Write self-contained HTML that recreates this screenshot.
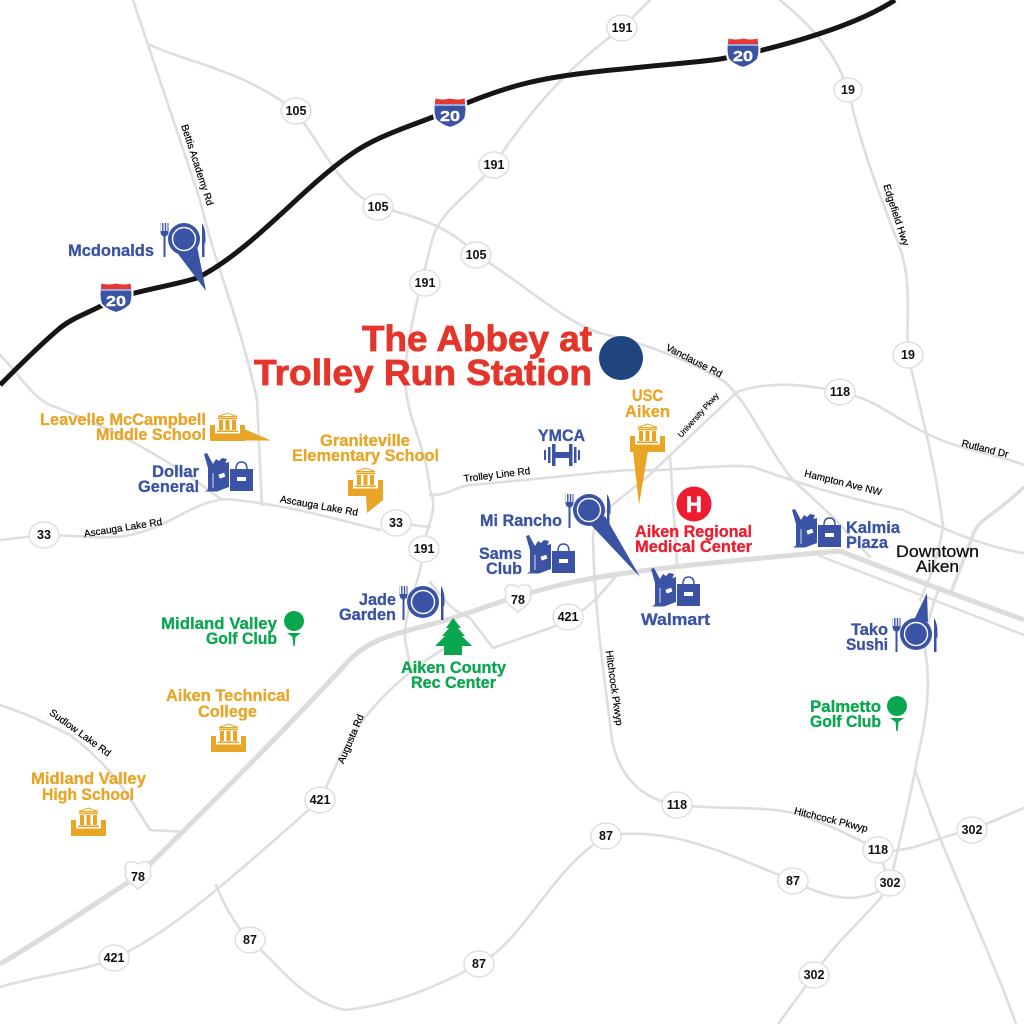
<!DOCTYPE html>
<html><head><meta charset="utf-8"><style>
html,body{margin:0;padding:0;background:#fff}
svg{display:block}
text{font-family:"Liberation Sans",sans-serif}
.l{font-weight:700;font-size:17px;stroke-width:.3}
.b{fill:#3a53a4;stroke:#3a53a4}.g{fill:#e8a526;stroke:#e8a526}.v{fill:#0aa64f;stroke:#0aa64f}.r{fill:#ed1c2e;stroke:#ed1c2e}
.rd{font-size:10px;fill:#000;text-anchor:middle;stroke:#000;stroke-width:.2}
.o{font-size:12.5px;font-weight:700;fill:#111;text-anchor:middle}
.road{fill:none;stroke:#dedede;stroke-width:2.6;stroke-linejoin:round;stroke-linecap:round}
</style></head><body>
<svg width="1024" height="1024" viewBox="0 0 1024 1024" xmlns="http://www.w3.org/2000/svg">
<defs>
<g id="plate"><circle r="16" fill="#3a53a4"/><circle r="11.500" fill="none" stroke="#fff" stroke-width="1.400"/>
<path d="M-23.500-16v9q0 3 3 4.500V18h2V-2.500q3-1.500 3-4.500v-9h-1v8h-1.300v-8h-1.400v8h-1.300v-8h-1.400v8h-1.300v-8z" fill="#3a53a4"/>
<path d="M18-16q3.500 5 3.500 15t-1 3v16H18z" fill="#3a53a4"/></g>
<g id="bags" fill="#3a53a4">
<path d="M-1 0L2-1 8 10l3-5 3 2 3-3 5 1-3 7-12 3-4-1z"/>
<path d="M3 14L24 8v25L12 37.500H0l3-2z"/>
<rect x="14" y="20" width="6" height="4" fill="#fff" transform="rotate(-20 16 22)"/>
<path d="M8 19v15" stroke="#fff" stroke-width=".8"/>
<path d="M25 15h23v22H25z"/><path d="M31 15q0-7 5.500-7t5.500 7" fill="none" stroke="#3a53a4" stroke-width="1.500"/>
<rect x="32" y="23" width="9" height="4" fill="#fff"/>
</g>
<g id="school">
<path d="M8 4.500L17.500 1 27 4.500z" fill="none" stroke="#e8a526" stroke-width="1"/>
<path d="M8 5.500h19v1.800H8zM9 8h4v10H9zM15.500 8h4v10h-4zM22 8h4v10h-4zM7 18.500h21v1.500H7z" fill="#e8a526"/>
<path d="M0 13h5v8.500h25V13h5v16H0z" fill="#e8a526"/>
</g>
<g id="tee"><circle r="10" fill="#0aa64f"/><path d="M-7 12H7L1.500 16 .7 25h-1.400L-1.500 16z" fill="#0aa64f"/></g>
<g id="i20"><path d="M-15-15q7 2 15 0 8 2 15 0 3 12 0 21-5 6-15 9-10-3-15-9-3-9 0-21z" fill="#3a53a4" stroke="#fff" stroke-width="2"/>
<path d="M-14.500-14.500q7 2 14.500 0 8 2 14.500 0 .5 3 .5 5.500h-30q0-2.500 .5-5.500z" fill="#e53935"/>
<path d="M-15-8h30" stroke="#fff" stroke-width="1"/>
<text x="0" y="8" text-anchor="middle" font-size="15" font-weight="700" fill="#fff" stroke="#fff" stroke-width=".4" textLength="20" lengthAdjust="spacingAndGlyphs">20</text></g>
<g id="us"><path d="M-13-9l3-4h6l4 2 4-2h6l3 4-1 6 1 4-4 6-9 7-9-7-4-6 1-4z" fill="#fff" stroke="#ddd" stroke-width="1.500"/></g>
</defs>
<rect width="1024" height="1024" fill="#fff"/>

<!-- secondary roads -->
<g class="road">
<path d="M133 0L200 200C215 265 240 320 257 400L262 505"/>
<path d="M150 45C185 62 245 70 296 112C325 150 340 190 378 207C410 215 450 225 476 255C520 280 560 320 600 333C640 342 690 360 725 382C750 405 765 445 793 480L833 517L870 557"/>
<path d="M650 0L622 28C570 65 530 110 494 165C470 195 440 210 432 240C425 270 405 340 405 380C408 425 425 440 430 490C440 510 424 530 424 549C418 590 404 610 405 640C407 650 408 655 410 665"/>
<path d="M780 0C810 25 835 50 848 90C860 140 870 170 895 235C915 280 905 320 908 355C918 400 937 470 943 527C938 560 925 590 920 600"/>
<path d="M940 587C932 605 926 625 925 650C932 690 925 725 917 760C910 800 900 840 890 883"/>
<path d="M915 770C945 860 990 950 1016 1024"/>
<path d="M737 392C770 380 810 385 840 392C880 400 895 420 930 435C960 450 1000 455 1024 465"/>
<path d="M737 392L647 477L610 507C600 515 593 525 593 540C595 620 605 680 612 740C620 780 645 800 677 805C720 810 770 805 800 815C830 825 860 840 878 850L890 883"/>
<path d="M430 495C450 495 455 487 470 485C530 480 580 474 627 470C680 472 720 463 753 467C790 480 840 497 903 510C925 520 975 545 1023 553"/>
<path d="M670 457L677 565"/>
<path d="M0 540L44 535C70 535 110 540 130 535C170 527 190 503 225 499C280 503 340 520 380 530M412 525L430 527"/>
<path d="M0 355C20 375 30 395 50 405C90 420 150 445 222 500"/>
<path d="M0 987C40 975 90 970 114 958C170 935 240 870 320 800C335 770 345 735 385 695C405 675 430 655 460 640"/>
<path d="M430 582C445 600 450 610 470 618L493 648L553 627C575 617 590 605 598 597L617 575"/>
<path d="M216 885C228 915 240 930 250 940C280 965 300 1000 345 1010C395 1005 440 985 479 964C525 940 550 870 606 836C670 825 730 855 793 881C830 900 860 905 890 885C870 915 840 935 814 975L778 1024"/>
<path d="M878 850C910 855 940 835 972 830L1024 808"/>
<path d="M0 705C30 715 50 725 70 735C110 765 125 790 150 830L185 832"/>
<path d="M1023 488C1005 505 990 515 980 523C972 532 972 540 970 543L952 590" stroke-width="3.500"/>
<path d="M820 556L1024 635" stroke-width="2.500"/>
</g>
<path d="M0 964C50 935 100 900 138 876C210 805 280 735 343 667C365 640 390 635 440 622C480 610 500 600 560 585C620 570 740 560 840 551C900 575 970 600 1024 620" fill="none" stroke="#dcdcdc" stroke-width="5"/>
<path d="M0 385C20 365 40 345 60 328C75 316 90 313 116 298C150 288 175 285 197 278C250 252 300 190 350 155C375 137 405 128 433 117C455 108 490 92 527 83C560 75 600 71 633 68C670 64 700 62 720 59C760 52 850 30 895 0" fill="none" stroke="#161616" stroke-width="5"/>

<!-- shields -->
<use href="#i20" x="450" y="113"/><use href="#i20" x="743" y="53"/><use href="#i20" x="116" y="298"/>
<use href="#us" x="518" y="598"/><text class="o" x="518" y="604">78</text>
<use href="#us" x="138" y="875"/><text class="o" x="138" y="881">78</text>

<!-- route ovals -->
<g fill="#fff" stroke="#dfdfdf" stroke-width="1.500">
<ellipse cx="622" cy="28" rx="15" ry="13"/><ellipse cx="296" cy="111" rx="15" ry="13"/><ellipse cx="378" cy="207" rx="15" ry="13"/><ellipse cx="494" cy="165" rx="15" ry="13"/><ellipse cx="848" cy="90" rx="14" ry="12"/><ellipse cx="476" cy="255" rx="15" ry="13"/><ellipse cx="425" cy="283" rx="15" ry="13"/><ellipse cx="908" cy="355" rx="15" ry="13"/><ellipse cx="840" cy="392" rx="15" ry="13"/><ellipse cx="396" cy="523" rx="15" ry="13"/><ellipse cx="44" cy="535" rx="15" ry="13"/><ellipse cx="424" cy="549" rx="15" ry="13"/><ellipse cx="568" cy="617" rx="15" ry="13"/><ellipse cx="320" cy="800" rx="15" ry="13"/><ellipse cx="677" cy="805" rx="15" ry="13"/><ellipse cx="878" cy="850" rx="15" ry="13"/><ellipse cx="606" cy="836" rx="15" ry="13"/><ellipse cx="793" cy="881" rx="15" ry="13"/><ellipse cx="890" cy="883" rx="15" ry="13"/><ellipse cx="972" cy="830" rx="15" ry="13"/><ellipse cx="250" cy="940" rx="15" ry="13"/><ellipse cx="114" cy="958" rx="15" ry="13"/><ellipse cx="479" cy="964" rx="15" ry="13"/><ellipse cx="814" cy="975" rx="15" ry="13"/>
</g>
<g transform="translate(0 4)">
<text class="o" x="622" y="28">191</text><text class="o" x="296" y="111">105</text><text class="o" x="378" y="207">105</text><text class="o" x="494" y="165">191</text><text class="o" x="848" y="90">19</text><text class="o" x="476" y="255">105</text><text class="o" x="425" y="283">191</text><text class="o" x="908" y="355">19</text><text class="o" x="840" y="392">118</text><text class="o" x="396" y="523">33</text><text class="o" x="44" y="535">33</text><text class="o" x="424" y="549">191</text><text class="o" x="568" y="617">421</text><text class="o" x="320" y="800">421</text><text class="o" x="677" y="805">118</text><text class="o" x="878" y="850">118</text><text class="o" x="606" y="836">87</text><text class="o" x="793" y="881">87</text><text class="o" x="890" y="883">302</text><text class="o" x="972" y="830">302</text><text class="o" x="250" y="940">87</text><text class="o" x="114" y="958">421</text><text class="o" x="479" y="964">87</text><text class="o" x="814" y="975">302</text>
</g>

<!-- road labels -->
<text class="rd" transform="translate(197 165) rotate(72)" y="3">Bettis Academy Rd</text>
<text class="rd" transform="translate(896 215) rotate(72)" y="3">Edgefield Hwy</text>
<text class="rd" transform="translate(694 361) rotate(27)" y="3">Vanclause Rd</text>
<text class="rd" transform="translate(985 449) rotate(14)" y="3">Rutland Dr</text>
<text class="rd" transform="translate(843 483) rotate(14)" y="3">Hampton Ave NW</text>
<text class="rd" style="font-size:8px" transform="translate(698 415) rotate(-48)" y="3">University Pkwy</text>
<text class="rd" transform="translate(497 475) rotate(-7)" y="3">Trolley Line Rd</text>
<text class="rd" transform="translate(319 506) rotate(10)" y="3">Ascauga Lake Rd</text>
<text class="rd" transform="translate(123 528) rotate(-9)" y="3">Ascauga Lake Rd</text>
<text class="rd" transform="translate(614 688) rotate(82)" y="3">Hitchcock Pkwyp</text>
<text class="rd" transform="translate(351 739) rotate(-67)" y="3">Augusta Rd</text>
<text class="rd" transform="translate(80 733) rotate(36)" y="3">Sudlow Lake Rd</text>
<text class="rd" transform="translate(831 820) rotate(14)" y="3">Hitchcock Pkwyp</text>

<!-- title -->
<text x="362" y="351" font-size="36" font-weight="700" fill="#e5352b" stroke="#e5352b" stroke-width=".8" textLength="230" lengthAdjust="spacingAndGlyphs">The Abbey at</text>
<text x="254" y="385" font-size="36" font-weight="700" fill="#e5352b" stroke="#e5352b" stroke-width=".8" textLength="338" lengthAdjust="spacingAndGlyphs">Trolley Run Station</text>
<circle cx="621" cy="358" r="22" fill="#1f4480"/>

<!-- restaurants -->
<path d="M175 250L197 246 206 291z" fill="#3a53a4"/><use href="#plate" x="184" y="239"/>
<path d="M590 524L605 516 640 577z" fill="#3a53a4"/><use href="#plate" x="589" y="510"/>
<use href="#plate" x="423" y="602"/>
<path d="M914 620L927 593 928 622z" fill="#3a53a4"/><use href="#plate" x="916" y="634"/>

<!-- shopping -->
<use href="#bags" x="205" y="454"/><use href="#bags" x="527" y="536"/><use href="#bags" x="652" y="569"/><use href="#bags" x="793" y="510"/>

<!-- schools -->
<use href="#school" x="210" y="412"/><path d="M244 429L271 440.500H244z" fill="#e8a526"/>
<use href="#school" x="348" y="467"/><path d="M366 495H383V500L367 513z" fill="#e8a526"/>
<use href="#school" x="630" y="423"/><path d="M633 451H648L639 505z" fill="#e8a526"/>
<use href="#school" x="211" y="723"/><use href="#school" x="71" y="807"/>

<!-- golf, tree, hospital, gym -->
<use href="#tee" x="294" y="621"/><use href="#tee" x="897" y="706"/>
<path d="M453 618l8 10h-3l7 8h-3l10 10h-10v9h-18v-9h-9l10-10h-3l7-8h-3z" fill="#0aa64f"/>
<circle cx="694" cy="504" r="17.500" fill="#ed1c2e"/><text x="694" y="512" text-anchor="middle" font-size="22" font-weight="700" fill="#fff" stroke="#fff" stroke-width=".6">H</text>
<g fill="#3a53a4"><rect x="544" y="450" width="2" height="10"/><rect x="548" y="447" width="2.500" height="16"/><rect x="552" y="444" width="3.500" height="22"/><rect x="555" y="452" width="14" height="6"/><rect x="569" y="444" width="3.500" height="22"/><rect x="574" y="447" width="2.500" height="16"/><rect x="578" y="450" width="2" height="10"/></g>

<!-- labels -->
<text class="l b" x="68" y="256" textLength="86" lengthAdjust="spacingAndGlyphs">Mcdonalds</text>
<text class="l g" x="40" y="425" textLength="166" lengthAdjust="spacingAndGlyphs">Leavelle McCampbell</text>
<text class="l g" x="96" y="440" textLength="110" lengthAdjust="spacingAndGlyphs">Middle School</text>
<text class="l b" x="152" y="477" textLength="47" lengthAdjust="spacingAndGlyphs">Dollar</text>
<text class="l b" x="138" y="492" textLength="61" lengthAdjust="spacingAndGlyphs">General</text>
<text class="l g" x="320" y="446" textLength="90" lengthAdjust="spacingAndGlyphs">Graniteville</text>
<text class="l g" x="292" y="461" textLength="147" lengthAdjust="spacingAndGlyphs">Elementary School</text>
<text class="l b" x="538" y="441" textLength="47" lengthAdjust="spacingAndGlyphs">YMCA</text>
<text class="l g" x="632" y="401" textLength="31" lengthAdjust="spacingAndGlyphs">USC</text>
<text class="l g" x="625" y="417" textLength="45" lengthAdjust="spacingAndGlyphs">Aiken</text>
<text class="l b" x="480" y="526" textLength="82" lengthAdjust="spacingAndGlyphs">Mi Rancho</text>
<text class="l b" x="479" y="559" textLength="43" lengthAdjust="spacingAndGlyphs">Sams</text>
<text class="l b" x="486" y="574" textLength="36" lengthAdjust="spacingAndGlyphs">Club</text>
<text class="l r" x="635" y="537" textLength="117" lengthAdjust="spacingAndGlyphs">Aiken Regional</text>
<text class="l r" x="635" y="552" textLength="117" lengthAdjust="spacingAndGlyphs">Medical Center</text>
<text class="l b" x="641" y="625" textLength="69" lengthAdjust="spacingAndGlyphs">Walmart</text>
<text class="l b" x="846" y="533" textLength="54" lengthAdjust="spacingAndGlyphs">Kalmia</text>
<text class="l b" x="846" y="548" textLength="42" lengthAdjust="spacingAndGlyphs">Plaza</text>
<text fill="#111" x="896" y="557" font-size="17" textLength="83" lengthAdjust="spacingAndGlyphs" stroke="#111" stroke-width=".3">Downtown</text>
<text fill="#111" x="916" y="572" font-size="17" textLength="43" lengthAdjust="spacingAndGlyphs" stroke="#111" stroke-width=".3">Aiken</text>
<text class="l b" x="851" y="635" textLength="37" lengthAdjust="spacingAndGlyphs">Tako</text>
<text class="l b" x="846" y="650" textLength="42" lengthAdjust="spacingAndGlyphs">Sushi</text>
<text class="l v" x="810" y="712" textLength="71" lengthAdjust="spacingAndGlyphs">Palmetto</text>
<text class="l v" x="810" y="727" textLength="71" lengthAdjust="spacingAndGlyphs">Golf Club</text>
<text class="l b" x="359" y="605" textLength="37" lengthAdjust="spacingAndGlyphs">Jade</text>
<text class="l b" x="339" y="620" textLength="57" lengthAdjust="spacingAndGlyphs">Garden</text>
<text class="l v" x="161" y="629" textLength="116" lengthAdjust="spacingAndGlyphs">Midland Valley</text>
<text class="l v" x="206" y="644" textLength="71" lengthAdjust="spacingAndGlyphs">Golf Club</text>
<text class="l v" x="401" y="673" textLength="105" lengthAdjust="spacingAndGlyphs">Aiken County</text>
<text class="l v" x="411" y="688" textLength="85" lengthAdjust="spacingAndGlyphs">Rec Center</text>
<text class="l g" x="166" y="701" textLength="124" lengthAdjust="spacingAndGlyphs">Aiken Technical</text>
<text class="l g" x="198" y="717" textLength="59" lengthAdjust="spacingAndGlyphs">College</text>
<text class="l g" x="31" y="784" textLength="115" lengthAdjust="spacingAndGlyphs">Midland Valley</text>
<text class="l g" x="42" y="800" textLength="92" lengthAdjust="spacingAndGlyphs">High School</text>
</svg>
</body></html>
